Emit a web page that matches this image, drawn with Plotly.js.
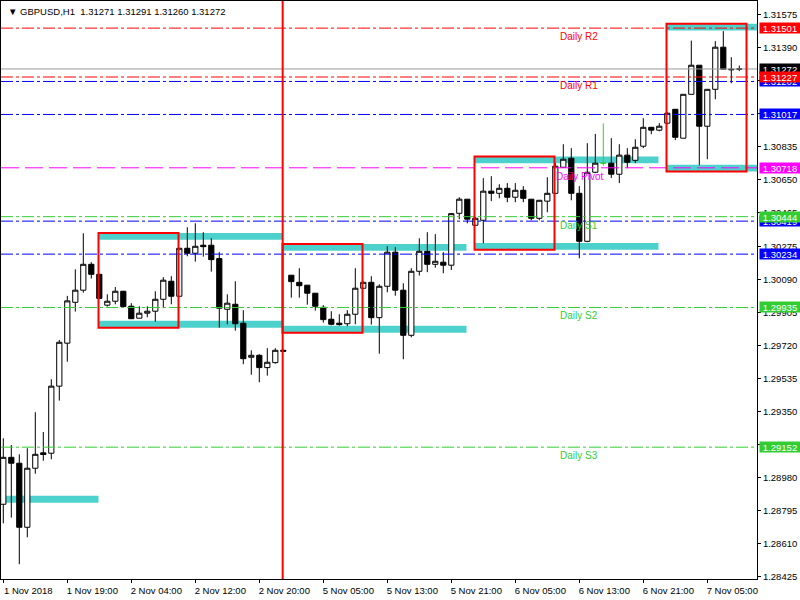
<!DOCTYPE html>
<html>
<head>
<meta charset="utf-8">
<script src="https://cdn.plot.ly/plotly-3.0.1.min.js"></script>
<style>
html,body{margin:0;padding:0;background:#fff;}
#chart{width:800px;height:600px;}
</style>
</head>
<body>
<div id="chart"></div>
<script>
// ---------------- DATA ----------------
const symbol = 'GBPUSD,H1';
const barIndex = [0,1,2,3,4,5,6,7,8,9,10,11,12,13,14,15,16,17,18,19,20,21,22,23,24,25,26,27,28,29,30,31,32,33,34,35,36,37,38,39,40,41,42,43,44,45,46,47,48,49,50,51,52,53,54,55,56,57,58,59,60,61,62,63,64,65,66,67,68,69,70,71,72,73,74,75,76,77,78,79,80,81,82,83,84,85,86,87,88,89,90,91,92];
const opens = [1.28832,1.29095,1.29062,1.28703,1.29034,1.29120,1.29118,1.29494,1.29735,1.29964,
  1.30032,1.30177,1.30121,1.29948,1.29970,1.30026,1.29942,1.29875,1.29903,1.29914,
  1.29981,1.30082,1.29998,1.30267,1.30239,1.30284,1.30284,1.30209,1.29925,1.29953,
  1.29847,1.29656,1.29667,1.29598,1.29626,1.29695,1.30116,1.30076,1.30060,1.30015,
  1.29936,1.29869,1.29847,1.29844,1.29897,1.30043,1.30076,1.29878,1.30054,1.30245,
  1.30032,1.29779,1.30138,1.30250,1.30177,1.30189,1.30172,1.30463,1.30542,1.30396,
  1.30424,1.30587,1.30575,1.30603,1.30553,1.30592,1.30542,1.30435,1.30531,1.30575,
  1.30721,1.30772,1.30575,1.30306,1.30693,1.30744,1.30744,1.30682,1.30789,1.30760,
  1.30839,1.30945,1.30929,1.30968,1.31046,1.30884,1.31130,1.31293,1.30951,1.31158,
  1.31394,1.31271,1.31271];
const highs = [1.29202,1.29164,1.29112,1.29146,1.29348,1.29237,1.29533,1.29753,1.30000,1.30149,
  1.30351,1.30189,1.30123,1.30009,1.30050,1.30028,1.29959,1.29942,1.29942,1.30026,
  1.30105,1.30110,1.30269,1.30385,1.30407,1.30357,1.30323,1.30245,1.30009,1.30082,
  1.29920,1.29695,1.29673,1.29707,1.29707,1.29700,1.30116,1.30155,1.30060,1.30015,
  1.29948,1.29914,1.29897,1.29920,1.30155,1.30081,1.30110,1.30065,1.30278,1.30273,
  1.30071,1.30155,1.30323,1.30357,1.30346,1.30245,1.30465,1.30553,1.30542,1.30443,
  1.30660,1.30671,1.30626,1.30632,1.30632,1.30615,1.30542,1.30536,1.30665,1.30745,
  1.30850,1.30828,1.30615,1.30856,1.30908,1.30967,1.30884,1.30850,1.30828,1.30878,
  1.30996,1.30945,1.30968,1.31030,1.31046,1.31130,1.31431,1.31293,1.31158,1.31428,
  1.31484,1.31338,1.31291];
const lows = [1.28725,1.28757,1.28496,1.28647,1.29003,1.29076,1.29084,1.29413,1.29631,1.29912,
  1.30018,1.30097,1.29983,1.29940,1.29953,1.29938,1.29872,1.29875,1.29880,1.29856,
  1.29931,1.29953,1.29997,1.30222,1.30192,1.30220,1.30136,1.29822,1.29841,1.29805,
  1.29617,1.29558,1.29516,1.29553,1.29620,1.29686,1.29990,1.29990,1.29951,1.29917,
  1.29850,1.29835,1.29833,1.29830,1.29841,1.30039,1.29839,1.29676,1.30020,1.30001,
  1.29645,1.29768,1.30114,1.30133,1.30158,1.30127,1.30145,1.30430,1.30407,1.30392,
  1.30295,1.30531,1.30547,1.30525,1.30525,1.30525,1.30424,1.30424,1.30469,1.30572,
  1.30721,1.30536,1.30211,1.30301,1.30688,1.30729,1.30661,1.30632,1.30716,1.30744,
  1.30828,1.30906,1.30923,1.30962,1.30873,1.30884,1.31130,1.30732,1.30766,1.31102,
  1.31271,1.31192,1.31260];
const closes = [1.29095,1.29062,1.28703,1.29034,1.29112,1.29111,1.29494,1.29740,1.29972,1.30032,
  1.30177,1.30121,1.29986,1.29970,1.30026,1.29940,1.29872,1.29903,1.29914,1.29981,
  1.30088,1.29998,1.30267,1.30239,1.30278,1.30276,1.30203,1.29931,1.29959,1.29844,
  1.29648,1.29667,1.29598,1.29628,1.29695,1.29690,1.30080,1.30057,1.30015,1.29942,
  1.29867,1.29841,1.29839,1.29897,1.30043,1.30076,1.29878,1.30054,1.30245,1.30032,
  1.29779,1.30138,1.30250,1.30177,1.30194,1.30172,1.30461,1.30542,1.30430,1.30435,
  1.30587,1.30575,1.30603,1.30553,1.30592,1.30547,1.30435,1.30536,1.30575,1.30727,
  1.30766,1.30575,1.30306,1.30693,1.30744,1.30744,1.30682,1.30789,1.30749,1.30833,
  1.30945,1.30929,1.30951,1.31024,1.30889,1.31130,1.31293,1.30951,1.31158,1.31394,
  1.31271,1.31268,1.31272];

const xTickBars = [0,8,16,24,32,40,48,56,64,72,80,88];
const xTickLabels = ['1 Nov 2018','1 Nov 19:00','2 Nov 04:00','2 Nov 12:00','2 Nov 20:00','5 Nov 05:00',
  '5 Nov 13:00','5 Nov 21:00','6 Nov 05:00','6 Nov 13:00','6 Nov 21:00','7 Nov 05:00'];
const yTickValues = [1.31575,1.31390,1.31205,1.31020,1.30835,1.30650,1.30465,1.30275,1.30090,1.29905,
  1.29720,1.29535,1.29350,1.29165,1.28980,1.28795,1.28610,1.28425];

const pivotNames  = ['Daily R2','Daily R1','Daily Pivot','Daily S1','Daily S2','Daily S3'];
const pivotValues = [1.31501,1.31227,1.30718,1.30444,1.29935,1.29152];
const blueLevels  = [1.31202,1.31017,1.30419,1.30234];
const bidPrice    = 1.31272;

const rangeBoxStart = [12,35,59,83];
const rangeBoxHigh  = [1.30353,1.30291,1.30781,1.31525];
const rangeBoxLow   = [1.29822,1.29794,1.30258,1.30697];
const prevBandStart = -11;
const prevBandHigh  = 1.28879;
const dayBreakBar   = 35;

// ---------------- STYLE ----------------
const FONT = 'Liberation Sans, Arial, sans-serif';
const RED = '#FF0000', GREEN = '#32CD32', BLUE = '#0000FF', MAGENTA = '#FF00FF', CYAN = '#4CD1CC';
const pivotColors = [RED, RED, MAGENTA, GREEN, GREEN, GREEN];
const pivotDash = ['12px,3px,3px,3px','12px,3px,3px,3px','18px,6px','12px,3px,3px,3px','12px,3px,3px,3px','12px,3px,3px,3px'];
const BOX_BARS = 10, BAND_BARS = 23, BAND_H = 0.00038, EDGE = 0.1, LABEL_BAR = 72;

// ---------------- TRACES ----------------
const isDoji = barIndex.map((_, i) => opens[i] === closes[i]);
const pick = (arr, keep) => arr.filter((_, i) => isDoji[i] === keep);

const mainTrace = {
  type: 'candlestick',
  x: pick(barIndex, false), open: pick(opens, false), high: pick(highs, false),
  low: pick(lows, false), close: pick(closes, false),
  increasing: {line: {color: '#000', width: 1}, fillcolor: '#FFFFFF'},
  decreasing: {line: {color: '#000', width: 1}, fillcolor: '#000000'},
  whiskerwidth: 0, hoverinfo: 'skip', showlegend: false
};
const dojiTrace = {
  type: 'candlestick',
  x: pick(barIndex, true), open: pick(opens, true), high: pick(highs, true),
  low: pick(lows, true), close: pick(closes, true),
  increasing: {line: {color: GREEN, width: 1}, fillcolor: GREEN},
  decreasing: {line: {color: GREEN, width: 1}, fillcolor: GREEN},
  whiskerwidth: 0, hoverinfo: 'skip', showlegend: false
};

// ---------------- SHAPES ----------------
const shapes = [];
function band(start, yTop) {
  shapes.push({type: 'rect', xref: 'x', yref: 'y', layer: 'below',
    x0: start - EDGE, x1: start + BAND_BARS - EDGE, y0: yTop - BAND_H, y1: yTop,
    fillcolor: CYAN, line: {width: 0}});
}
band(prevBandStart, prevBandHigh);
rangeBoxStart.forEach((s, i) => {
  band(s, rangeBoxHigh[i]);
  band(s, rangeBoxLow[i] + BAND_H);
});
function hline(v, color, dash, w) {
  shapes.push({type: 'line', xref: 'paper', yref: 'y', x0: 0, x1: 1, y0: v, y1: v,
    line: {color: color, width: w || 1, dash: dash}, layer: 'above'});
}
blueLevels.forEach(v => hline(v, BLUE, '12px,3px,3px,3px'));
hline(bidPrice, '#9A9A9A', 'solid');
pivotValues.forEach((v, i) => hline(v, pivotColors[i], pivotDash[i]));
shapes.push({type: 'line', xref: 'x', yref: 'paper', x0: dayBreakBar - 0.08, x1: dayBreakBar - 0.08, y0: 0, y1: 1,
  line: {color: RED, width: 2}, layer: 'above'});
rangeBoxStart.forEach((s, i) => {
  shapes.push({type: 'rect', xref: 'x', yref: 'y', layer: 'above',
    x0: s - EDGE, x1: s + BOX_BARS - EDGE, y0: rangeBoxLow[i], y1: rangeBoxHigh[i],
    fillcolor: 'rgba(0,0,0,0)', line: {color: RED, width: 2}});
});

// ---------------- ANNOTATIONS ----------------
const annotations = [];
const last = barIndex.length - 1;
annotations.push({xref: 'paper', yref: 'paper', x: 0, y: 1, xanchor: 'left', yanchor: 'top',
  xshift: 5, yshift: -3, showarrow: false,
  text: '\u25BC ' + symbol + '\u00a0\u00a0' + [opens[last], highs[last], lows[last], closes[last]].map(v => v.toFixed(5)).join(' '),
  font: {family: FONT, size: 9.5, color: '#000'}});
pivotNames.forEach((n, i) => {
  annotations.push({xref: 'x', yref: 'y', x: LABEL_BAR, y: pivotValues[i], xanchor: 'center', yanchor: 'top',
    yshift: -1, showarrow: false, text: n, font: {family: FONT, size: 10, color: pivotColors[i]}});
});
function priceLabel(v, bg) {
  annotations.push({xref: 'paper', yref: 'y', x: 1, y: v, xanchor: 'left', yanchor: 'middle',
    xshift: 2, showarrow: false, text: v.toFixed(5), bgcolor: bg, borderpad: 0,
    width: 40, height: 10, align: 'center',
    font: {family: FONT, size: 9.5, color: '#FFFFFF'}});
}
blueLevels.forEach(v => priceLabel(v, BLUE));
priceLabel(bidPrice, '#000000');
pivotValues.forEach((v, i) => priceLabel(v, pivotColors[i]));

// ---------------- LAYOUT ----------------
const layout = {
  width: 800, height: 600,
  margin: {l: 1, r: 43, t: 1, b: 21, pad: 0},
  paper_bgcolor: '#FFFFFF', plot_bgcolor: '#FFFFFF',
  showlegend: false, hovermode: false, dragmode: false,
  boxgap: 0.35, boxgroupgap: 0,
  font: {family: FONT, size: 9.5, color: '#000'},
  xaxis: {
    range: [-0.2875, 94.2125], showgrid: false, zeroline: false,
    showline: true, mirror: true, linecolor: '#000', linewidth: 1,
    tickmode: 'array', tickvals: xTickBars, ticktext: xTickLabels,
    ticks: 'outside', ticklen: 3, tickcolor: '#000', ticklabelshift: 25,
    tickfont: {family: FONT, size: 9.5, color: '#000'},
    rangeslider: {visible: false}, fixedrange: true
  },
  yaxis: {
    range: [1.28413, 1.31653], side: 'right', showgrid: false, zeroline: false,
    showline: true, mirror: true, linecolor: '#000', linewidth: 1,
    tickmode: 'array', tickvals: yTickValues, ticktext: yTickValues.map(v => v.toFixed(5)),
    ticks: 'outside', ticklen: 3, tickcolor: '#000',
    tickfont: {family: FONT, size: 9.5, color: '#000'}, fixedrange: true
  },
  shapes: shapes,
  annotations: annotations
};

Plotly.newPlot('chart', [mainTrace, dojiTrace], layout, {staticPlot: true, displayModeBar: false});
</script>
</body>
</html>
